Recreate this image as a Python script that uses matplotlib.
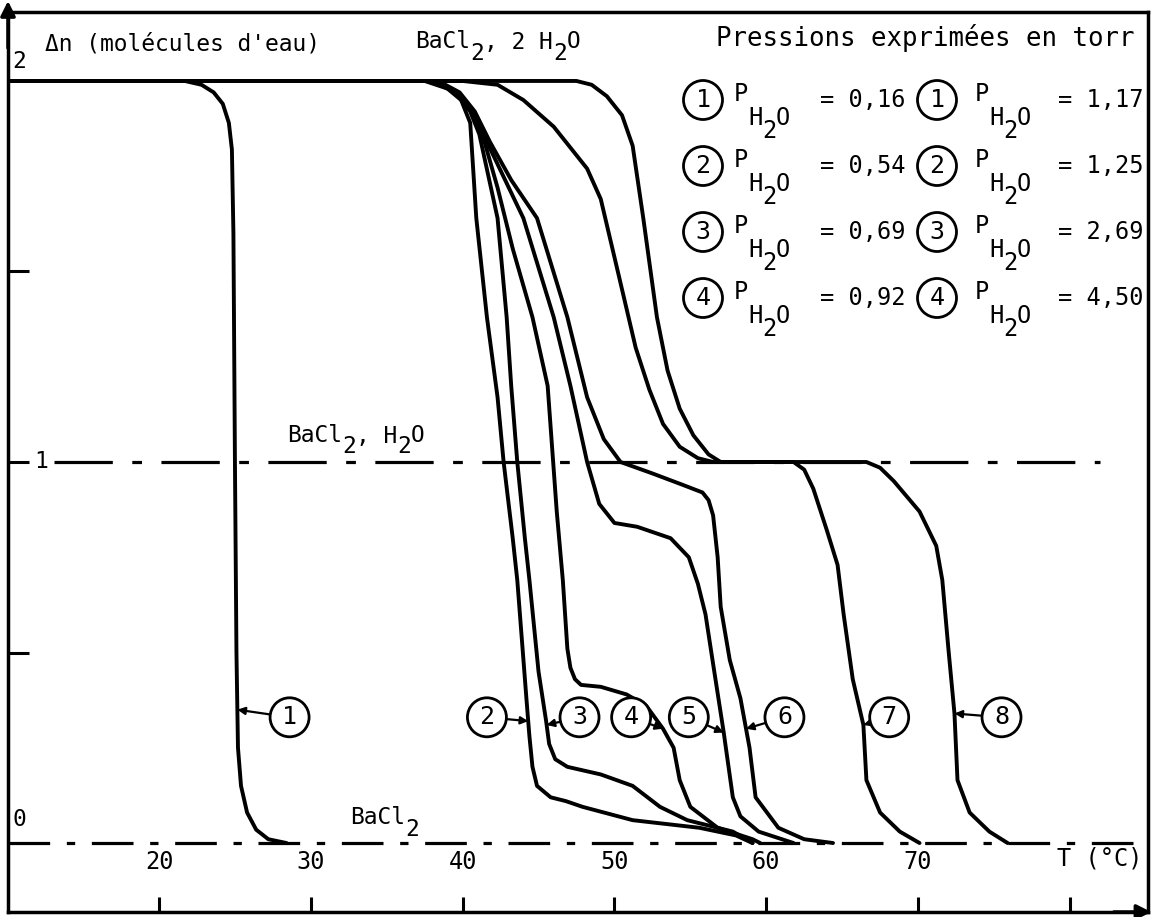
import matplotlib
matplotlib.use("Agg")
import matplotlib.pyplot as plt
import numpy as np

plt.rcParams['lines.scale_dashes'] = False
MONO = 'DejaVu Sans Mono'

# ---------------- data (T in degC, delta n in water molecules) ----------------
T1 = [10.0, 21.7, 22.8, 23.6, 24.2, 24.6, 24.8, 24.9, 25.0, 25.1, 25.2, 25.4, 25.8, 26.4, 27.2, 28.4]
N1 = [2.0, 2.0, 1.99, 1.97, 1.94, 1.89, 1.82, 1.6, 1.0, 0.5, 0.25, 0.15, 0.08, 0.035, 0.01, 0.0]

T2 = [10.0, 37.5, 39.0, 39.9, 40.5, 40.9, 41.6, 42.3, 42.7, 43.3, 43.6, 44.2, 44.4, 44.6, 44.9, 45.8, 46.8, 47.9, 51.2, 55.6, 58.0, 59.1]
N2 = [2.0, 2.0, 1.98, 1.95, 1.89, 1.64, 1.38, 1.17, 1.0, 0.8, 0.69, 0.38, 0.28, 0.2, 0.15, 0.12, 0.11, 0.095, 0.06, 0.04, 0.02, 0.0]

T3 = [10.0, 38.0, 39.5, 40.5, 41.1, 41.7, 42.3, 42.9, 43.2, 43.6, 44.1, 44.4, 45.0, 45.5, 45.7, 46.1, 46.9, 49.1, 51.2, 53.0, 54.8, 57.8, 59.1]
N3 = [2.0, 2.0, 1.97, 1.92, 1.86, 1.75, 1.64, 1.38, 1.2, 1.0, 0.8, 0.69, 0.45, 0.32, 0.26, 0.22, 0.2, 0.18, 0.15, 0.095, 0.06, 0.03, 0.0]

T4 = [10.0, 38.2, 39.7, 40.6, 41.3, 42.3, 43.3, 44.6, 45.6, 46.2, 46.6, 46.9, 47.1, 47.4, 47.8, 49.1, 50.8, 52.1, 53.2, 53.9, 54.3, 55.0, 56.8, 59.1, 59.6]
N4 = [2.0, 2.0, 1.97, 1.92, 1.86, 1.72, 1.56, 1.38, 1.2, 0.87, 0.69, 0.51, 0.46, 0.43, 0.415, 0.41, 0.39, 0.36, 0.30, 0.25, 0.165, 0.095, 0.04, 0.01, 0.0]

T5 = [10.0, 38.3, 39.7, 40.7, 41.6, 42.8, 44.0, 46.0, 47.1, 48.2, 49.0, 50.0, 51.5, 53.7, 54.9, 55.5, 56.0, 56.5, 57.2, 57.8, 58.3, 59.5, 61.8]
N5 = [2.0, 2.0, 1.97, 1.92, 1.84, 1.74, 1.64, 1.38, 1.2, 1.0, 0.89, 0.84, 0.83, 0.80, 0.75, 0.68, 0.60, 0.47, 0.29, 0.12, 0.07, 0.03, 0.0]

T6 = [10.0, 38.4, 39.8, 40.8, 41.8, 43.2, 44.9, 46.9, 48.2, 49.3, 50.4, 52.5, 54.5, 55.8, 56.2, 56.5, 56.8, 57.0, 57.6, 58.3, 58.9, 59.3, 60.8, 62.5, 64.4]
N6 = [2.0, 2.0, 1.97, 1.92, 1.84, 1.74, 1.64, 1.38, 1.17, 1.06, 1.0, 0.97, 0.94, 0.92, 0.90, 0.86, 0.75, 0.62, 0.48, 0.38, 0.25, 0.12, 0.04, 0.01, 0.0]

T7 = [10.0, 40.0, 42.3, 44.0, 46.0, 48.2, 49.1, 50.4, 51.4, 52.3, 53.2, 54.3, 55.5, 56.5, 61.8, 62.5, 63.1, 64.0, 64.7, 65.1, 65.7, 66.4, 66.6, 67.5, 68.8, 70.1]
N7 = [2.0, 2.0, 1.99, 1.95, 1.88, 1.77, 1.69, 1.47, 1.30, 1.19, 1.10, 1.04, 1.01, 1.0, 1.0, 0.98, 0.93, 0.82, 0.73, 0.60, 0.43, 0.31, 0.165, 0.08, 0.03, 0.0]

T8 = [10.0, 47.5, 48.5, 49.5, 50.5, 51.2, 51.9, 52.8, 53.5, 54.3, 55.2, 56.2, 57.0, 66.6, 67.5, 68.4, 70.1, 71.2, 71.6, 72.0, 72.4, 72.6, 73.4, 74.7, 75.9]
N8 = [2.0, 2.0, 1.99, 1.96, 1.91, 1.83, 1.64, 1.38, 1.24, 1.14, 1.07, 1.02, 1.0, 1.0, 0.985, 0.95, 0.87, 0.78, 0.69, 0.51, 0.34, 0.165, 0.08, 0.03, 0.0]

curves_T = [T1, T2, T3, T4, T5, T6, T7, T8]
curves_N = [N1, N2, N3, N4, N5, N6, N7, N8]
curve_labels = ['1', '2', '3', '4', '5', '6', '7', '8']
label_T = [28.6, 41.6, 47.7, 51.1, 54.9, 61.2, 68.1, 75.5]
label_N = 0.33
arrow_N = [0.35, 0.32, 0.31, 0.30, 0.29, 0.30, 0.31, 0.34]

hydrate_levels = [1, 0]
x_ticks = [20, 30, 40, 50, 60, 70, 80]
x_ticklabels = ['20', '30', '40', '50', '60', '70']
y_ticks = [0.5, 1.0, 1.5]

legend_nums = ['1', '2', '3', '4']
p_left = ['0,16', '0,54', '0,69', '0,92']
p_right = ['1,17', '1,25', '2,69', '4,50']

# ---------------- figure ----------------
W, H = 1156, 917
fig = plt.figure(figsize=(W / 100, H / 100), dpi=100)
ax = fig.add_axes([8 / W, 5 / H, 1140 / W, 900 / H])
ax.set_xlim(10.05, 85.15)
ax.set_ylim(-0.181, 2.181)
for s in ax.spines.values():
    s.set_linewidth(2.5)

ax.set_xticks(x_ticks)
ax.set_yticks(y_ticks)
ax.tick_params(axis='both', direction='in', labelbottom=False, labelleft=False,
               width=2.2)
ax.tick_params(axis='x', length=11)
ax.tick_params(axis='y', length=15)

# hydrate levels (dash-dot style lines)
ax.plot([13.1, 82.0], [hydrate_levels[0]] * 2, color='black', lw=2.3,
        dashes=(42, 14, 7, 14), solid_capstyle='butt')
ax.plot([10.05, 85.15], [hydrate_levels[1]] * 2, color='black', lw=2.3,
        dashes=(30, 12, 6, 12), solid_capstyle='butt', clip_on=False)

for T, N in zip(curves_T, curves_N):
    ax.plot(T, N, color='black', lw=2.8, solid_joinstyle='round',
            solid_capstyle='round', zorder=3)

# curve labels in circles with small arrows
for lab, lt, an, T, N in zip(curve_labels, label_T, arrow_N, curves_T, curves_N):
    tx = float(np.interp(an, N[::-1], T[::-1]))
    ax.annotate(lab, xy=(tx, an), xytext=(lt, label_N), textcoords='data',
                ha='center', va='center', fontsize=18, family=MONO, zorder=5,
                bbox=dict(boxstyle='circle,pad=0.3', fc='white', ec='black', lw=2),
                arrowprops=dict(arrowstyle='-|>', color='black', lw=1.6,
                                mutation_scale=11, shrinkA=0, shrinkB=0))


# ---------------- text helpers (pixel positions, top-left origin) ----------------
def ft(x, y, s, size=17, **kw):
    fig.text(x / W, 1 - y / H, s, fontsize=size, family=MONO, **kw)


def chem(x, y, parts, size=17, drop=11):
    """Draw text made of (string, lowered) parts with monospace advance."""
    adv = 0.602 * size * 100 / 72
    for s, low in parts:
        ft(x, y + (drop if low else 0), s, size=size, ha='left', va='center')
        x += adv * len(s)


ft(45, 44, "Δn (molécules d'eau)", size=16.5, ha='left', va='center')
ft(12, 62, '2', size=16.5, ha='left', va='center')
ax.text(12.2, 1.0, '1', fontsize=16.5, family=MONO, ha='center', va='center',
        bbox=dict(fc='white', ec='none', pad=1))
ft(12, 820, '0', size=16.5, ha='left', va='center')

chem(415, 42, [('BaCl', 0), ('2', 1), (', 2 H', 0), ('2', 1), ('O', 0)], size=16.5)
chem(287, 436, [('BaCl', 0), ('2', 1), (', H', 0), ('2', 1), ('O', 0)], size=16.5)
chem(350, 818, [('BaCl', 0), ('2', 1)], size=16.5)

for t, s in zip(x_ticks, x_ticklabels):
    ax.text(t, -0.05, s, fontsize=17, family=MONO, ha='center', va='center')
ax.text(82.0, -0.04, 'T (°C)', fontsize=17, family=MONO, ha='center', va='center')

# axis arrows
ax.annotate('', xy=(0, 1.0 + 11 / 900), xytext=(0, 0.96), xycoords='axes fraction',
            arrowprops=dict(arrowstyle='-|>', color='black', lw=2.5,
                            mutation_scale=22, shrinkA=0, shrinkB=0))
ax.annotate('', xy=(1.003, 0.0), xytext=(0.97, 0.0), xycoords='axes fraction',
            arrowprops=dict(arrowstyle='-|>', color='black', lw=2.5,
                            mutation_scale=22, shrinkA=0, shrinkB=0))

# ---------------- legend ----------------
ft(716, 38, 'Pressions exprimées en torr', size=18.5, ha='left', va='center')

row_y = [100, 166, 232, 298]
col = [(703, 734, 820), (937, 975, 1058)]
for i, y in enumerate(row_y):
    for (cx, px, ex), vals in zip(col, [p_left, p_right]):
        fig.text(cx / W, 1 - y / H, legend_nums[i], fontsize=18, family=MONO,
                 ha='center', va='center',
                 bbox=dict(boxstyle='circle,pad=0.3', fc='white', ec='black', lw=2))
        ft(px, y - 6, 'P', ha='left', va='center')
        ft(px + 14, y + 18, 'H', ha='left', va='center')
        ft(px + 28, y + 31, '2', ha='left', va='center')
        ft(px + 42, y + 18, 'O', ha='left', va='center')
        ft(ex, y, '= ' + vals[i], ha='left', va='center')

fig.savefig('out.png', dpi=100)
